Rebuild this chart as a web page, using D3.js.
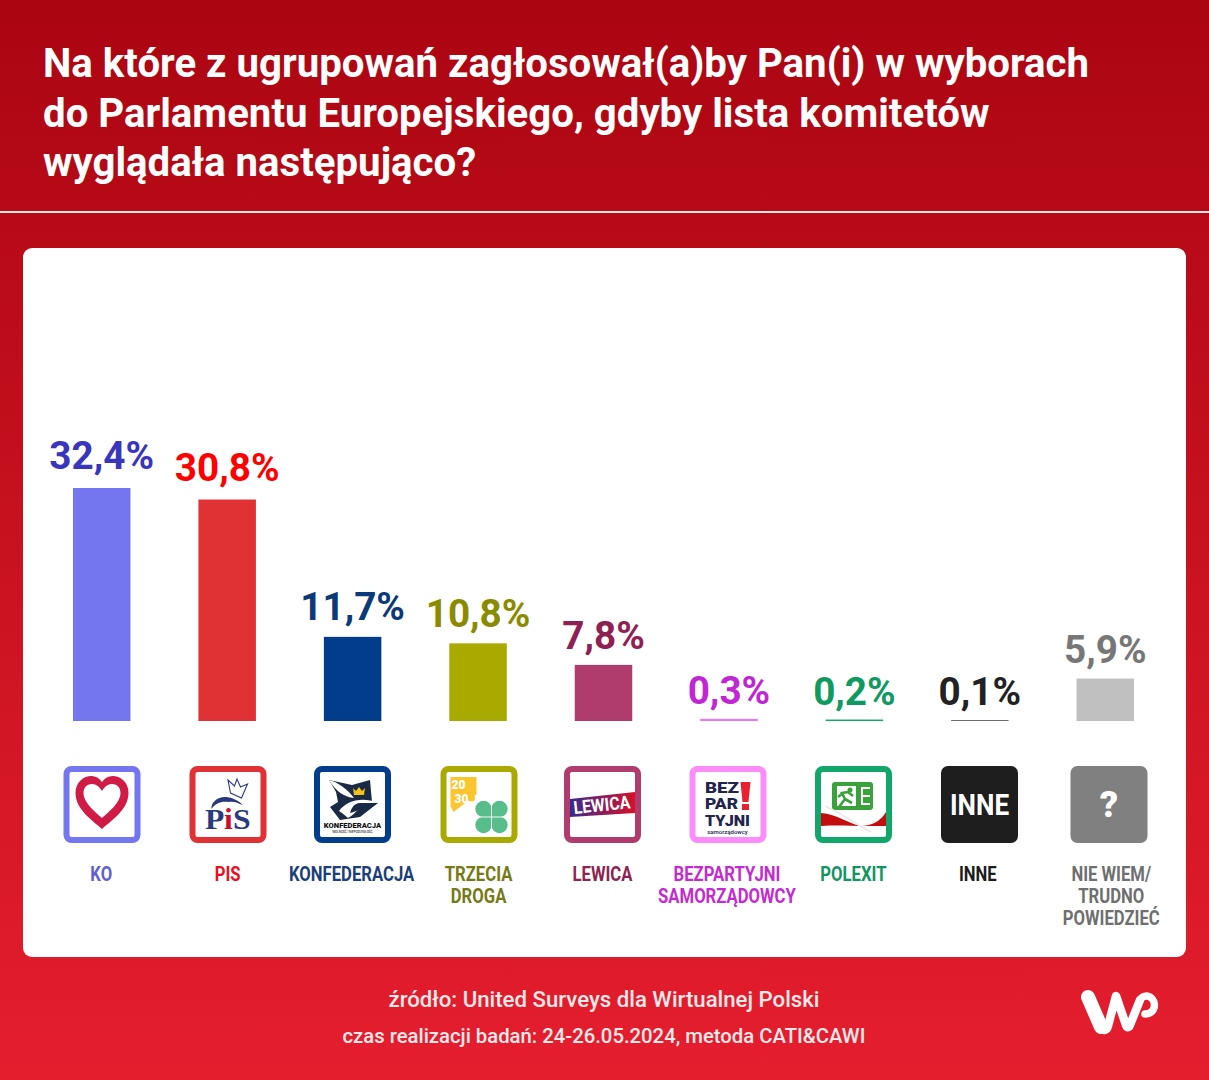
<!DOCTYPE html>
<html lang="pl"><head><meta charset="utf-8">
<script src="https://cdn.jsdelivr.net/npm/d3@7"></script>
<style>html,body{margin:0;padding:0;background:#e41d2d}svg{display:block}text{font-family:Roboto,sans-serif}</style>
</head><body><svg id="c" width="1209" height="1080"></svg>
<script>
const categories=["KO","PIS","KONFEDERACJA","TRZECIA DROGA","LEWICA","BEZPARTYJNI SAMORZĄDOWCY","POLEXIT","INNE","NIE WIEM/ TRUDNO POWIEDZIEĆ"];
const values=[32.4,30.8,11.7,10.8,7.8,0.3,0.2,0.1,5.9];
const valueLabels=["32,4%","30,8%","11,7%","10,8%","7,8%","0,3%","0,2%","0,1%","5,9%"];
const categoryLines=[["KO"],["PIS"],["KONFEDERACJA"],["TRZECIA","DROGA"],["LEWICA"],["BEZPARTYJNI","SAMORZĄDOWCY"],["POLEXIT"],["INNE"],["NIE WIEM/","TRUDNO","POWIEDZIEĆ"]];
const barColors=["#7376ef","#e03234","#023d8b","#a8aa00","#b03c6e","#e879e8","#12a66a","#333333","#c0c0c0"];
const valueColors=["#3a35bd","#ff0000","#0c3a78","#8b8b00","#8e2053","#c026d3","#0e9a61","#222222","#777777"];
const labelColors=["#5f5fd0","#e8121e","#1c3f7c","#757a16","#8e2350","#c32bd0","#109563","#1c1c1c","#6f6f6f"];
const iconBorders=["#7376ef","#e03234","#023d8b","#a8aa00","#b03c6e","#fb8dfb","#12a66a","#1e1e1e","#808080"];
const titleLines=["Na które z ugrupowań zagłosował(a)by Pan(i) w wyborach","do Parlamentu Europejskiego, gdyby lista komitetów","wyglądała następująco?"];
const sourceLines=["źródło: United Surveys dla Wirtualnej Polski","czas realizacji badań: 24-26.05.2024, metoda CATI&CAWI"];

const svg=d3.select("#c");
const defs=svg.append("defs");
const g=defs.append("linearGradient").attr("id","bg").attr("x1",0).attr("x2",0).attr("y1",0).attr("y2",1);
g.append("stop").attr("offset","0").attr("stop-color","#ab0511");
g.append("stop").attr("offset","1").attr("stop-color","#e51e2e");
const lg=defs.append("linearGradient").attr("id","lew").attr("x1",0).attr("x2",1).attr("y1",0).attr("y2",0);
lg.append("stop").attr("offset","0").attr("stop-color","#3b2a8c");
lg.append("stop").attr("offset","1").attr("stop-color","#d7102a");
svg.append("rect").attr("width",1209).attr("height",1080).attr("fill","url(#bg)");
svg.append("rect").attr("y",211).attr("width",1209).attr("height",2).attr("fill","#f4e3e4");
svg.append("rect").attr("x",23).attr("y",248).attr("width",1163).attr("height",709).attr("rx",9).attr("fill","#fff");

svg.append("g").selectAll("text").data(titleLines).join("text")
 .attr("x",43).attr("y",(d,i)=>[77,127,176][i]).attr("font-size",40.2).attr("font-weight",700).attr("fill","#fff").text(d=>d);

const x=d3.scaleBand().domain(categories).range([39,1168]);
const y=d3.scaleLinear().domain([0,32.4]).range([721,488]);
const bw=57.5;
const cx=d=>x(d)+x.bandwidth()/2;

svg.append("g").selectAll("rect").data(categories).join("rect")
 .attr("x",d=>cx(d)-bw/2).attr("width",bw)
 .attr("y",(d,i)=>y(values[i])).attr("height",(d,i)=>y(0)-y(values[i])).attr("fill",(d,i)=>barColors[i]);

svg.append("g").selectAll("text").data(categories).join("text")
 .attr("x",d=>cx(d)).attr("y",(d,i)=>y(values[i])-15-values[i]*.12).attr("text-anchor","middle")
 .attr("font-size",38.7).attr("font-weight",700).attr("fill",(d,i)=>valueColors[i]).text((d,i)=>valueLabels[i]);

const labelShift=[-.5,.5,-1,.5,-1,-2,-1,-2,6];
const lab=svg.append("g");
categories.forEach((c,i)=>{
  categoryLines[i].forEach((t,j)=>{
    lab.append("text").attr("transform",`translate(${cx(c)+labelShift[i]},${881+j*22}) scale(0.855,1)`)
     .attr("text-anchor","middle").attr("font-size",19.5).attr("font-weight",700).attr("fill",labelColors[i]).text(t);
  });
});

// icons
const S=77;
const icons=svg.append("g");
const txt=(n,t,x0,y0,fs,col,w=700,a="middle",sx=1)=>n.append("text").attr("transform",`translate(${x0},${y0}) scale(${sx},1)`).attr("text-anchor",a).attr("font-size",fs).attr("font-weight",w).attr("fill",col).text(t);
const draw=[
 n=>{n.append("path").attr("d","M38.5 63 C30 55 12 44 12 27 C12 16 20 10 28 10 C32 10 36 12 38.5 16 C41 12 45 10 49 10 C57 10 65 16 65 27 C65 44 47 55 38.5 63Z M38.5 52 C44 47 57 37 57 27 C57 21 53 18 48.5 18 C44 18 41 21 38.5 25 C36 21 33 18 28.5 18 C24 18 20 21 20 27 C20 37 33 47 38.5 52Z").attr("fill","#cf1b45").attr("fill-rule","evenodd");},
 n=>{n.append("path").attr("d","M41 27 L38.5 14 L45 20 L47.5 13 L51 21 L58 18 L52 32Z").attr("fill","#fff").attr("stroke","#2b3a7e").attr("stroke-width",1.1);
     n.append("path").attr("d","M22 43 C21 36 29 30 37 31 C44 32 50 35 53 39 C47 36 43 35 39 36 C32 35 26 37 22 43Z").attr("fill","#2b3a7e");
     const f=(t,xx,c)=>txt(n,t,xx,63,29,c,700,"start",1.09).style("font-family","'Liberation Serif',serif");
     f("P",15.5,"#2b3a7e");f("i",34.5,"#c8102e");f("S",43.5,"#2b3a7e");},
 n=>{n.append("path").attr("d","M15 14 L38 19 L56 14 L58 36 L64 37 L46 51 L26 54 L16 41 L24 36 L22 26Z").attr("fill","#1b2a44");
     n.append("path").attr("d","M15 14 C24 16 34 24 40 32 C31 31 22 26 15 14Z").attr("fill","#fff");
     n.append("path").attr("d","M25 45 C32 35 48 30 64 37 L54 37 C46 37 44 47 34 52 C31 49 28 47 25 45Z").attr("fill","#fff");
     n.append("path").attr("d","M39 22 L42 25 L45 21 L48 25 L51 22 L50 29 L40 29Z").attr("fill","#f2c21a");
     n.append("path").attr("d","M46 37 C40 37 37 43 36 47 C44 45 49 42 54 37Z").attr("fill","#1b2a44");
     txt(n,"KONFEDERACJA",38.5,61.5,7.6,"#111",900,"middle",1);
     txt(n,"WOLNOŚĆ I NIEPODLEGŁOŚĆ",38.5,66.5,3,"#333",500,"middle",1);},
 n=>{n.append("path").attr("d","M10 11 H36 V28 L13 46 L10 40Z").attr("fill","#fbc52d");
     txt(n,"20",18,23,12,"#fff",900,"middle",1);
     txt(n,"30",21,37,12,"#fff",900,"middle",1);
     n.append("circle").attr("cx",31).attr("cy",32).attr("r",3.6).attr("fill","#fbc52d");
     [[-8,-8],[8,-8],[-8,8],[8,8]].forEach(o=>n.append("circle").attr("cx",51+o[0]).attr("cy",51+o[1]).attr("r",8.2).attr("fill","#57bd8b"));
     n.append("rect").attr("x",44).attr("y",44).attr("width",14).attr("height",14).attr("fill","#57bd8b");
     n.append("path").attr("d","M51 35 V67 M35 51 H67").attr("stroke","#fff").attr("stroke-width",.9);},
 n=>{n.append("path").attr("d","M6 33 L71 26 V47 L6 51Z").attr("fill","url(#lew)");
     n.append("text").attr("transform","translate(38.5,45) rotate(-6) scale(.88,1)").attr("text-anchor","middle").attr("font-size",18).attr("font-weight",700).attr("fill","#fff").text("LEWICA");},
 n=>{const row=(t,yy,w)=>n.append("text").attr("x",15.5).attr("y",yy).attr("font-size",14).attr("font-weight",900).attr("fill","#23234f").attr("textLength",w).attr("lengthAdjust","spacingAndGlyphs").text(t);
     row("BEZ",27,34);row("PAR",43.4,33);row("TYJNI",59.8,45);
     n.append("path").attr("d","M51 16 H61 L59 36 H53Z").attr("fill","#e8222e");
     n.append("rect").attr("x",52.5).attr("y",38).attr("width",7).attr("height",6).attr("fill","#e8222e");
     txt(n,"samorządowcy",38,67.5,5,"#23234f",500,"middle",1.2);},
 n=>{n.append("rect").attr("x",17).attr("y",16).attr("width",41).attr("height",28).attr("rx",3).attr("fill","#3aa23a");
     n.append("rect").attr("x",22).attr("y",20).attr("width",19).attr("height",20).attr("fill","#fff");
     n.append("circle").attr("cx",35).attr("cy",24).attr("r",2.5).attr("fill","#3aa23a");
     n.append("path").attr("d","M24 41 L30 33 L27 27 L33 26 M30 33 L37 37 M28 27 L23 31 M33 26 L38 30").attr("fill","none").attr("stroke","#3aa23a").attr("stroke-width",2.6);
     n.append("path").attr("d","M46 22 H55 M46 30 H55 M46 38 H55 M47 21 V39").attr("stroke","#fff").attr("stroke-width",2);
     n.append("path").attr("d","M6 47 C22 48 34 58 46 60 C56 60 66 55 71 46 V60 H50 C36 60 24 59 6 60Z").attr("fill","#c40d0d");
     n.append("path").attr("d","M10 40 C24 46 40 58 56 66").attr("stroke","#e8e8e8").attr("stroke-width",1.5).attr("fill","none");},
 n=>{txt(n,"INNE",38.5,49,29,"#fff",700,"middle",.9);},
 n=>{txt(n,"?",38.5,51,36,"#fff",900,"middle",1);}
];
categories.forEach((c,i)=>{
  const xPos=[63.5,189.5,314,440.5,564,689.5,815,941,1070.5][i];
  const n=icons.append("g").attr("transform",`translate(${xPos},766)`);
  const solid=i>=7;
  n.append("rect").attr("x",solid?0:3).attr("y",solid?0:3).attr("width",solid?S:S-6).attr("height",solid?S:S-6)
   .attr("rx",solid?7:5).attr("fill",solid?iconBorders[i]:"#fff").attr("stroke",solid?"none":iconBorders[i]).attr("stroke-width",6);
  draw[i](n);
});

svg.append("g").selectAll("text").data(sourceLines).join("text")
 .attr("x",604).attr("y",(d,i)=>[1007,1043][i]).attr("text-anchor","middle").attr("font-weight",500)
 .attr("font-size",(d,i)=>[22.2,20.3][i]).attr("fill","#fbe9ea").text(d=>d);

// WP logo
const wp=svg.append("g").attr("transform","translate(1060,970)").attr("fill","none").attr("stroke","#fff").attr("stroke-linecap","round").attr("stroke-linejoin","round");
wp.append("path").attr("d","M28 27 L41 57").attr("stroke-width",14);
wp.append("path").attr("d","M41 57 C43 62 47 60 48 56 L56 26 L66 55 C67 58 69 58 70 55 L80 30").attr("stroke-width",8.5);
wp.append("path").attr("d","M80 30 C82 26 87 25 90 27 C97 31 96 44 85 44").attr("stroke-width",7.5);
</script></body></html>
